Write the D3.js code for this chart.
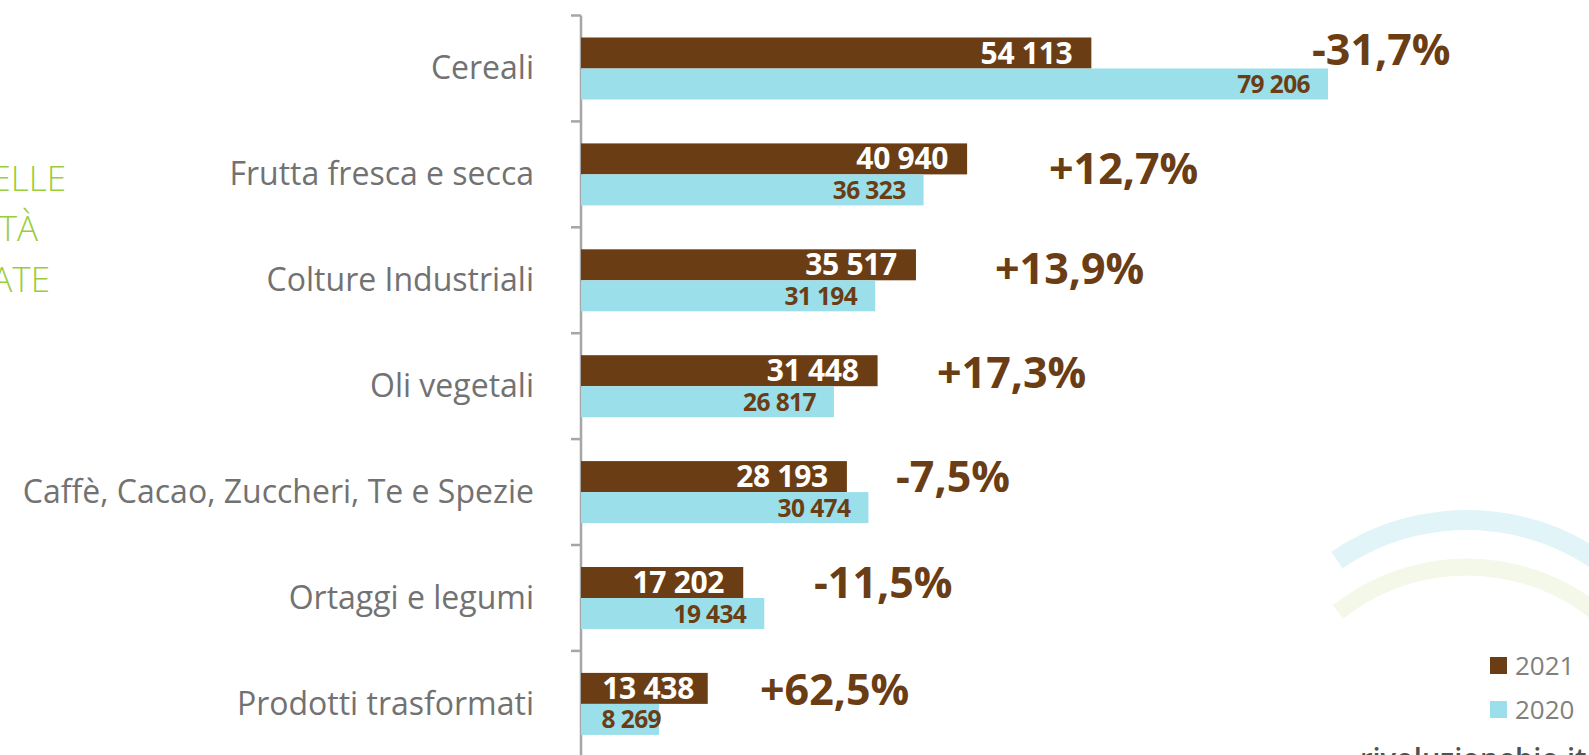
<!DOCTYPE html>
<html><head><meta charset="utf-8">
<script src="https://cdn.jsdelivr.net/npm/d3@7"></script>
<style>
html,body{margin:0;padding:0;background:#fff;overflow:hidden}
svg{display:block}
</style></head>
<body>
<svg id="chart" width="1589" height="755"></svg>
<script>
const categories = ["Cereali","Frutta fresca e secca","Colture Industriali","Oli vegetali","Caffè, Cacao, Zuccheri, Te e Spezie","Ortaggi e legumi","Prodotti trasformati"];
const values2021 = [54113, 40940, 35517, 31448, 28193, 17202, 13438];
const values2020 = [79206, 36323, 31194, 26817, 30474, 19434, 8269];
const pctLabels = ["-31,7%","+12,7%","+13,9%","+17,3%","-7,5%","-11,5%","+62,5%"];
const seriesNames = ["2021","2020"];
// annotation anchors (data units along x) and vertical nudges for the % labels
const pctLabelAt = [77510, 49624, 43898, 37748, 33400, 24706, 18980];
const pctLabelDy = [-3, 10, 4, 2, 0, 0, 1];
const sideText = ["ELLE","TÀ","ATE"];

const brown = "#6b3d14", cyan = "#9adfe9", axisGray = "#a6a6a6";
const svg = d3.select("#chart");

// watermark arcs
svg.append("path").attr("transform","translate(1467,751)")
  .attr("d", d3.arc()({innerRadius:231,outerRadius:231,startAngle:-0.598,endAngle:1.0}))
  .attr("fill","none").attr("stroke","#e1f4f8").attr("stroke-width",20).attr("stroke-linecap","round");
svg.append("path").attr("transform","translate(1467,774)")
  .attr("d", d3.arc()({innerRadius:207,outerRadius:207,startAngle:-0.672,endAngle:1.0}))
  .attr("fill","none").attr("stroke","#f3f8e8").attr("stroke-width",17).attr("stroke-linecap","round");

const x = d3.scaleLinear().domain([0, 79206]).range([581, 1328]);
const y = d3.scaleBand().domain(categories).range([15.5, 15.5 + 105.9*7]).paddingInner(0).paddingOuter(0);
const sub = d3.scaleBand().domain(seriesNames).range([22, 22 + 62]);

// axis
svg.append("line").attr("x1",581).attr("x2",581).attr("y1",15.5).attr("y2",755)
  .attr("stroke",axisGray).attr("stroke-width",2.5);
const boundaries = categories.map(c=>y(c)).concat([y(categories[6])+y.step()]);
svg.selectAll("line.tick").data(boundaries).join("line").attr("class","tick")
  .attr("x1",571).attr("x2",581).attr("y1",d=>d).attr("y2",d=>d)
  .attr("stroke",axisGray).attr("stroke-width",2.5);

// category labels
svg.selectAll("text.cat").data(categories).join("text").attr("class","cat")
  .attr("x",534).attr("y",d=>y(d)+y.bandwidth()/2+11)
  .attr("text-anchor","end").attr("font-family","'Open Sans'").attr("font-size",32)
  .attr("fill","#727272").text(d=>d);

const data = categories.map((c,i)=>({c, i, v21: values2021[i], v20: values2020[i]}));
const g = svg.selectAll("g.cat").data(data).join("g").attr("transform",d=>`translate(0,${y(d.c)})`);

g.append("rect").attr("x",x(0)).attr("y",sub("2021")).attr("width",d=>x(d.v21)-x(0)).attr("height",sub.bandwidth()).attr("fill",brown);
g.append("rect").attr("x",x(0)).attr("y",sub("2020")).attr("width",d=>x(d.v20)-x(0)).attr("height",sub.bandwidth()).attr("fill",cyan);

const fmt = v => d3.format(",")(v).replace(/,/g," ");
g.append("text").attr("x",d=>Math.max(x(d.v21)-19, x(0)+113)).attr("y",sub("2021")+sub.bandwidth()/2+10.5)
  .attr("text-anchor","end").attr("font-family","'Open Sans'").attr("font-weight",700).attr("font-size",30)
  .attr("letter-spacing",-0.3).attr("fill","#fff").text(d=>fmt(d.v21));
g.append("text").attr("x",d=>Math.max(x(d.v20)-18, x(0)+80)).attr("y",sub("2020")+sub.bandwidth()/2+9)
  .attr("text-anchor","end").attr("font-family","'Open Sans'").attr("font-weight",700).attr("font-size",24.5)
  .attr("letter-spacing",-0.6).attr("fill",brown).text(d=>fmt(d.v20));

g.append("text").attr("x",d=>x(pctLabelAt[d.i])).attr("y",d=>y.bandwidth()/2+pctLabelDy[d.i])
  .attr("font-family","'Open Sans'").attr("font-weight",700).attr("font-size",43)
  .attr("fill",brown).text(d=>pctLabels[d.i]);

// legend
const leg = svg.selectAll("g.leg").data(seriesNames).join("g").attr("class","leg")
  .attr("transform",(d,i)=>`translate(1490,${657+i*44})`);
leg.append("rect").attr("width",17).attr("height",17).attr("fill",(d,i)=>i?cyan:brown);
leg.append("text").attr("x",25).attr("y",18).attr("font-family","'Open Sans'").attr("font-size",26)
  .attr("fill","#808080").text(d=>d);

// side green text (cut off at left)
const sideEnds = [66, 38, 50], sideBase = [191, 241, 292];
svg.selectAll("text.side").data(sideText).join("text").attr("class","side")
  .attr("x",(d,i)=>sideEnds[i]).attr("y",(d,i)=>sideBase[i]).attr("text-anchor","end")
  .attr("font-family","'Open Sans'").attr("font-weight",300).attr("font-size",35)
  .attr("fill","#9acd3c").text(d=>d);

// website text (partially visible at bottom)
svg.append("text").attr("x",1360).attr("y",769).attr("font-family","'Open Sans'").attr("font-weight",600)
  .attr("font-size",29).attr("fill","#505050").text("rivoluzionebio.it");
</script>
</body></html>
